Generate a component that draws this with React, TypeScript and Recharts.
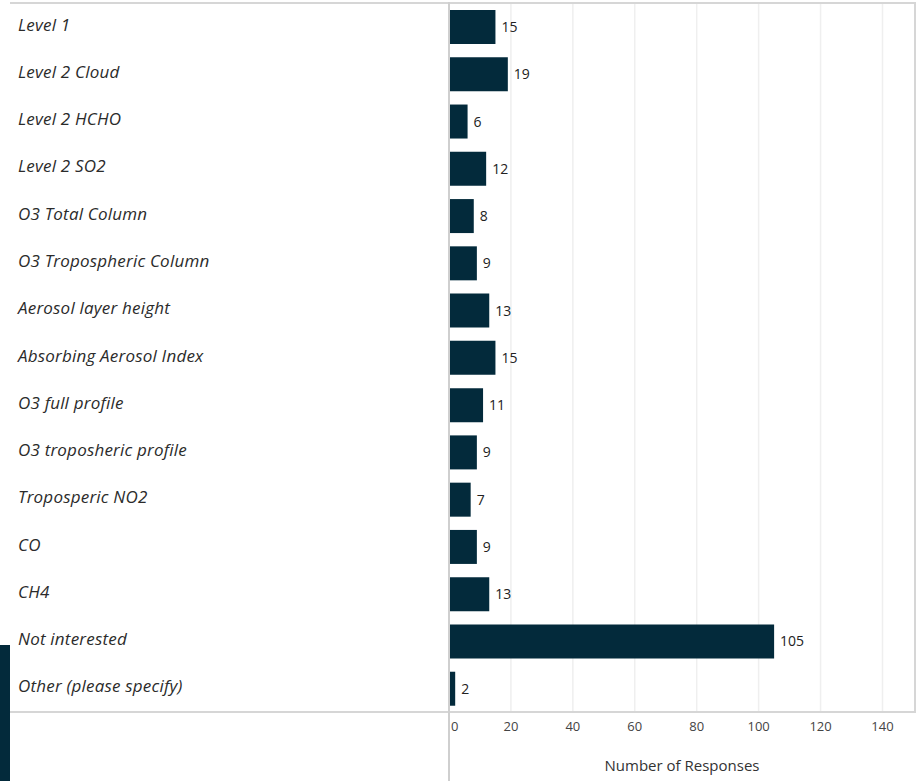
import React from 'react';
import { BarChart, Bar, XAxis, YAxis, CartesianGrid, LabelList } from 'recharts';

const categories = [
  'Level 1',
  'Level 2 Cloud',
  'Level 2 HCHO',
  'Level 2 SO2',
  'O3 Total Column',
  'O3 Tropospheric Column',
  'Aerosol layer height',
  'Absorbing Aerosol Index',
  'O3 full profile',
  'O3 troposheric profile',
  'Troposperic NO2',
  'CO',
  'CH4',
  'Not interested',
  'Other (please specify)',
];

const responses = [15, 19, 6, 12, 8, 9, 13, 15, 11, 9, 7, 9, 13, 105, 2];
const xTicks = [0, 20, 40, 60, 80, 100, 120, 140];

const data = categories.map((name, i) => ({ name, value: responses[i] }));

const FONT = '"Open Sans", sans-serif';
const BAR = '#032a3b';

const CategoryTick = (props: any) => {
  const { y, payload } = props;
  return (
    <text x={18} y={y} dy={4} textAnchor="start" fontFamily={FONT} fontStyle="italic" fontSize={17} letterSpacing={0.2} fill="#2b2b2b">
      {payload.value}
    </text>
  );
};

const ValueTick = (props: any) => {
  const { x, y, payload } = props;
  const first = payload.value === 0;
  return (
    <text x={first ? x + 2 : x} y={y} dy={11} textAnchor={first ? 'start' : 'middle'} fontFamily={FONT} fontSize={13} fill="#444">
      {payload.value}
    </text>
  );
};

const line = (s: React.CSSProperties): React.CSSProperties => ({ position: 'absolute', background: '#d6d6d6', ...s });

export default function App() {
  return (
    <div style={{ position: 'absolute', left: 0, top: 0, width: 918, height: 781, background: '#fff', overflow: 'hidden' }}>
      <BarChart
        width={918}
        height={781}
        data={data}
        layout="vertical"
        margin={{ top: 3, right: 3, left: 0, bottom: 0 }}
        barSize={34}
      >
        <CartesianGrid horizontal={false} stroke="#efefef" strokeWidth={1.5} />
        <XAxis
          type="number"
          domain={[0, 150.5]}
          ticks={xTicks}
          height={69}
          axisLine={false}
          tickLine={false}
          tick={<ValueTick />}
          label={{ value: 'Number of Responses', position: 'insideBottom', offset: 10, fontFamily: FONT, fontSize: 15, fill: '#333' }}
        />
        <YAxis type="category" dataKey="name" width={449} axisLine={false} tickLine={false} tick={<CategoryTick />} interval={0} />
        <Bar dataKey="value" fill={BAR} isAnimationActive={false}>
          <LabelList dataKey="value" position="right" offset={6} fontFamily={FONT} fontSize={14} fill="#222" />
        </Bar>
      </BarChart>
      <div style={line({ left: 10, top: 2, width: 906, height: 2 })} />
      <div style={line({ left: 10, top: 711, width: 906, height: 2 })} />
      <div style={line({ left: 914, top: 2, width: 2, height: 711 })} />
      <div style={line({ left: 448, top: 2, width: 1.5, height: 779, background: '#cfcfcf' })} />
      <div style={{ position: 'absolute', left: 0, top: 645, width: 10, height: 136, background: BAR }} />
    </div>
  );
}
